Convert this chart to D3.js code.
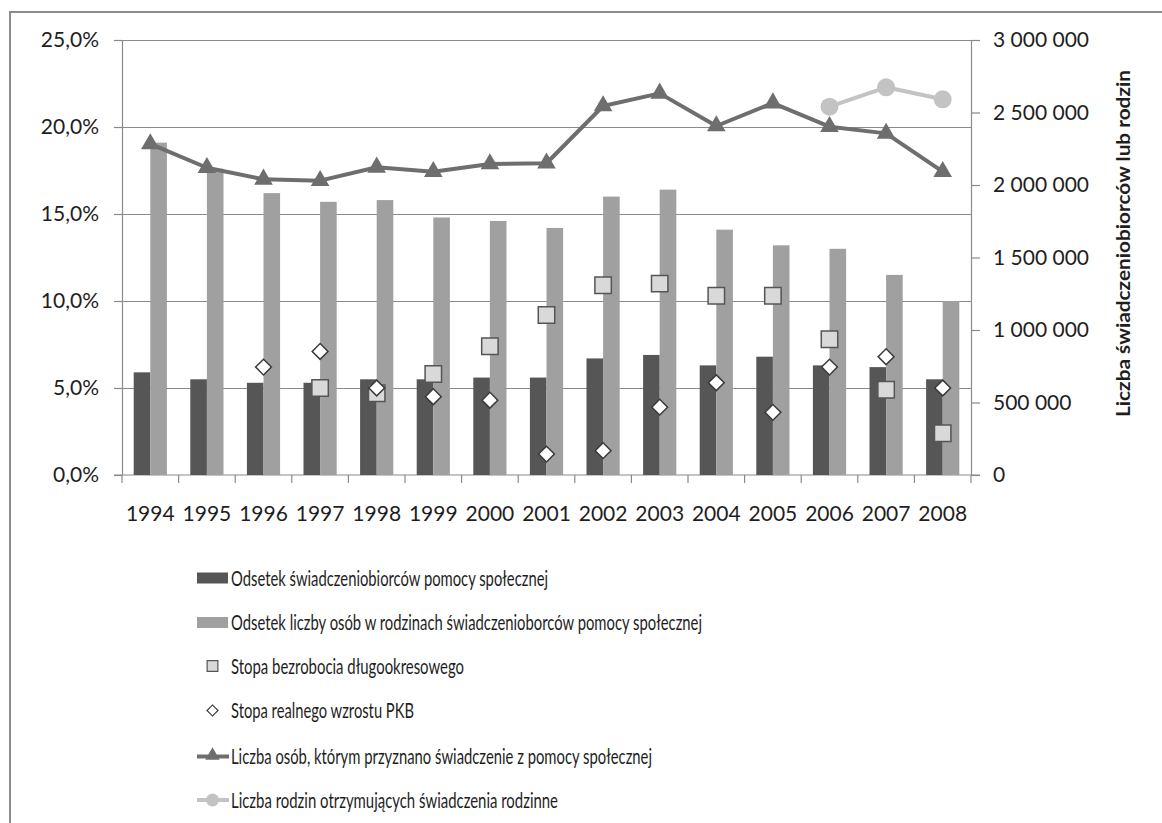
<!DOCTYPE html>
<html>
<head>
<meta charset="utf-8">
<script src="https://cdn.jsdelivr.net/npm/d3@7"></script>
<style>
  html, body { margin: 0; padding: 0; background: #fff; }
  svg { display: block; }
  text { font-family: Lato, "Open Sans", sans-serif; fill: #1e1e1e; }
</style>
</head>
<body>
<svg id="chart" width="1162" height="823"></svg>
<script>
// Lata
const years = ["1994","1995","1996","1997","1998","1999","2000","2001","2002","2003","2004","2005","2006","2007","2008"];

// Odsetek świadczeniobiorców pomocy społecznej (%)
const beneficiaryShare = [5.9, 5.5, 5.3, 5.3, 5.5, 5.5, 5.6, 5.6, 6.7, 6.9, 6.3, 6.8, 6.3, 6.2, 5.5];
// Odsetek liczby osób w rodzinach świadczeniobiorców (%)
const familyMembersShare = [19.1, 17.6, 16.2, 15.7, 15.8, 14.8, 14.6, 14.2, 16.0, 16.4, 14.1, 13.2, 13.0, 11.5, 10.0];
// Stopa bezrobocia długookresowego (%)
const longTermUnemployment = [null, null, null, 5.0, 4.7, 5.8, 7.4, 9.2, 10.9, 11.0, 10.3, 10.3, 7.8, 4.9, 2.4];
// Stopa realnego wzrostu PKB (%)
const gdpGrowth = [null, null, 6.2, 7.1, 5.0, 4.5, 4.3, 1.2, 1.4, 3.9, 5.3, 3.6, 6.2, 6.8, 5.0];
// Liczba osób, którym przyznano świadczenie z pomocy społecznej
const beneficiariesCount = [2283000, 2119000, 2039000, 2030000, 2122000, 2092000, 2145000, 2150000, 2545000, 2632000, 2407000, 2565000, 2402000, 2356000, 2092000];
// Liczba rodzin otrzymujących świadczenia rodzinne
const familyBenefitCount = [null, null, null, null, null, null, null, null, null, null, null, null, 2540000, 2674000, 2591000];

const leftTicks = [0, 5, 10, 15, 20, 25];
const rightTicks = [0, 500000, 1000000, 1500000, 2000000, 2500000, 3000000];

const legendLabels = [
  "Odsetek świadczeniobiorców pomocy społecznej",
  "Odsetek liczby osób w rodzinach świadczenioborców pomocy społecznej",
  "Stopa bezrobocia długookresowego",
  "Stopa realnego wzrostu PKB",
  "Liczba osób, którym przyznano świadczenie z pomocy społecznej",
  "Liczba rodzin otrzymujących świadczenia rodzinne"
];
const rightTitle = "Liczba świadczeniobiorców lub rodzin";

// ---- layout ----
const plot = { left: 122, right: 971, top: 40, bottom: 475 };
const col = {
  dark: "#565656", light: "#a0a0a0", grid: "#8a8a8a",
  sqFill: "#d9d9d9", sqStroke: "#555555", diaStroke: "#3a3a3a",
  triLine: "#6e6e6e", circLine: "#c3c3c3"
};

const svg = d3.select("#chart");

// outer frame (open to the right and bottom)
svg.append("rect")
  .attr("x", 10).attr("y", 12).attr("width", 1300).attr("height", 1000)
  .attr("fill", "none").attr("stroke", "#8c8c8c").attr("stroke-width", 2);

const x = d3.scaleBand().domain(years).range([plot.left, plot.right]).padding(0);
const cx = d => x(d) + x.bandwidth() / 2;
const yL = d3.scaleLinear().domain([0, 25]).range([plot.bottom, plot.top]);
const yR = d3.scaleLinear().domain([0, 3000000]).range([plot.bottom, plot.top]);

const pl = d3.formatLocale({ decimal: ",", thousands: "\u00a0", grouping: [3], currency: ["", " zł"] });
const fmtInt = pl.format(",d");
const fmtPct = pl.format(".1f");

// gridlines
const grid = svg.append("g").attr("transform", `translate(${plot.left},0)`)
  .call(d3.axisLeft(yL).tickValues(leftTicks.slice(1)).tickSize(-(plot.right - plot.left)).tickFormat(""));
grid.select(".domain").remove();
grid.selectAll("line").attr("stroke", col.grid).attr("stroke-width", 1.2);

// left axis
const axL = svg.append("g").attr("transform", `translate(${plot.left},0)`)
  .call(d3.axisLeft(yL).tickValues(leftTicks).tickSize(8).tickPadding(15).tickSizeOuter(0)
    .tickFormat(d => fmtPct(d) + "%"));
axL.select(".domain").attr("stroke", col.grid).attr("stroke-width", 1.2);
axL.selectAll("line").attr("stroke", col.grid).attr("stroke-width", 1.2);
axL.selectAll("text").attr("font-size", 21).attr("fill", "#1e1e1e").style("font-family", "Lato");

// right axis
const axR = svg.append("g").attr("transform", `translate(${plot.right},0)`)
  .call(d3.axisRight(yR).tickValues(rightTicks).tickSize(9).tickPadding(13).tickSizeOuter(0)
    .tickFormat(d => fmtInt(d)));
axR.select(".domain").attr("stroke", col.grid).attr("stroke-width", 1.2);
axR.selectAll("line").attr("stroke", col.grid).attr("stroke-width", 1.2);
axR.selectAll("text").attr("font-size", 21).attr("fill", "#1e1e1e").style("font-family", "Lato");

// bottom axis: labels centred, ticks on category boundaries
const axB = svg.append("g").attr("transform", `translate(0,${plot.bottom})`)
  .call(d3.axisBottom(x).tickSize(0).tickPadding(31));
axB.select(".domain").remove();
axB.selectAll("text").attr("font-size", 21).attr("fill", "#1e1e1e").style("font-family", "Lato");
svg.append("line")
  .attr("x1", plot.left - 8).attr("x2", plot.right + 9)
  .attr("y1", plot.bottom).attr("y2", plot.bottom)
  .attr("stroke", col.grid).attr("stroke-width", 1.2);
svg.append("g").selectAll("line")
  .data(years.concat(["_end"]))
  .join("line")
  .attr("x1", (d, i) => i < years.length ? x(d) : plot.right)
  .attr("x2", (d, i) => i < years.length ? x(d) : plot.right)
  .attr("y1", plot.bottom).attr("y2", plot.bottom + 8)
  .attr("stroke", col.grid).attr("stroke-width", 1.2);

// bars
const barW = 16.6;
svg.append("g").selectAll("rect")
  .data(years.map((y, i) => ({ y, v: beneficiaryShare[i] })))
  .join("rect")
  .attr("x", d => cx(d.y) - barW).attr("width", barW)
  .attr("y", d => yL(d.v)).attr("height", d => yL(0) - yL(d.v))
  .attr("fill", col.dark);
svg.append("g").selectAll("rect")
  .data(years.map((y, i) => ({ y, v: familyMembersShare[i] })))
  .join("rect")
  .attr("x", d => cx(d.y)).attr("width", barW)
  .attr("y", d => yL(d.v)).attr("height", d => yL(0) - yL(d.v))
  .attr("fill", col.light);

// square markers: long-term unemployment
svg.append("g").selectAll("path")
  .data(years.map((y, i) => ({ y, v: longTermUnemployment[i] })).filter(d => d.v != null))
  .join("path")
  .attr("d", d3.symbol(d3.symbolSquare, 270))
  .attr("transform", d => `translate(${cx(d.y)},${yL(d.v)})`)
  .attr("fill", col.sqFill).attr("stroke", col.sqStroke).attr("stroke-width", 1.5);

// diamond markers: GDP growth
svg.append("g").selectAll("path")
  .data(years.map((y, i) => ({ y, v: gdpGrowth[i] })).filter(d => d.v != null))
  .join("path")
  .attr("d", d3.symbol(d3.symbolSquare, 125))
  .attr("transform", d => `translate(${cx(d.y)},${yL(d.v)}) rotate(45)`)
  .attr("fill", "#fff").attr("stroke", col.diaStroke).attr("stroke-width", 1.5);

// line: beneficiaries (triangles)
const benPts = years.map((y, i) => ({ y, v: beneficiariesCount[i] }));
svg.append("path")
  .datum(benPts)
  .attr("d", d3.line().x(d => cx(d.y)).y(d => yR(d.v)))
  .attr("fill", "none").attr("stroke", col.triLine).attr("stroke-width", 4).attr("stroke-linejoin", "round");
svg.append("g").selectAll("path")
  .data(benPts)
  .join("path")
  .attr("d", d3.symbol(d3.symbolTriangle, 150))
  .attr("transform", d => `translate(${cx(d.y)},${yR(d.v)})`)
  .attr("fill", col.triLine);

// line: family benefits (circles)
const famPts = years.map((y, i) => ({ y, v: familyBenefitCount[i] })).filter(d => d.v != null);
svg.append("path")
  .datum(famPts)
  .attr("d", d3.line().x(d => cx(d.y)).y(d => yR(d.v)))
  .attr("fill", "none").attr("stroke", col.circLine).attr("stroke-width", 4).attr("stroke-linejoin", "round");
svg.append("g").selectAll("circle")
  .data(famPts)
  .join("circle")
  .attr("cx", d => cx(d.y)).attr("cy", d => yR(d.v)).attr("r", 9)
  .attr("fill", col.circLine);

// right axis title
svg.append("text")
  .attr("transform", "translate(1123,243.5) rotate(-90)")
  .attr("text-anchor", "middle").attr("dy", "0.35em")
  .attr("font-size", 19).attr("font-weight", "bold")
  .attr("textLength", 347).attr("lengthAdjust", "spacingAndGlyphs")
  .text(rightTitle);

// legend
const legY = [578, 622.5, 666, 710.5, 756.5, 800];
const legW = [317, 471, 233, 183, 421, 327];
const symX = 212.5;
const leg = svg.append("g");
legendLabels.forEach((label, i) => {
  const yy = legY[i];
  if (i === 0 || i === 1) {
    leg.append("rect").attr("x", 197).attr("y", yy - 5.5).attr("width", 31).attr("height", 11)
      .attr("fill", i === 0 ? col.dark : col.light);
  } else if (i === 2) {
    leg.append("path").attr("d", d3.symbol(d3.symbolSquare, 115))
      .attr("transform", `translate(${symX},${yy})`)
      .attr("fill", col.sqFill).attr("stroke", col.sqStroke).attr("stroke-width", 1.2);
  } else if (i === 3) {
    leg.append("path").attr("d", d3.symbol(d3.symbolSquare, 60))
      .attr("transform", `translate(${symX},${yy}) rotate(45)`)
      .attr("fill", "#fff").attr("stroke", col.diaStroke).attr("stroke-width", 1.2);
  } else {
    const c = i === 4 ? col.triLine : col.circLine;
    leg.append("line").attr("x1", 197).attr("x2", 229).attr("y1", yy).attr("y2", yy)
      .attr("stroke", c).attr("stroke-width", 4);
    if (i === 4) {
      leg.append("path").attr("d", d3.symbol(d3.symbolTriangle, 90))
        .attr("transform", `translate(${symX},${yy - 1})`).attr("fill", c);
    } else {
      leg.append("circle").attr("cx", symX).attr("cy", yy).attr("r", 6.5).attr("fill", c);
    }
  }
  leg.append("text")
    .attr("x", 231).attr("y", yy).attr("dy", "0.36em")
    .attr("font-size", 21)
    .attr("textLength", legW[i]).attr("lengthAdjust", "spacingAndGlyphs")
    .text(label);
});
</script>
</body>
</html>
